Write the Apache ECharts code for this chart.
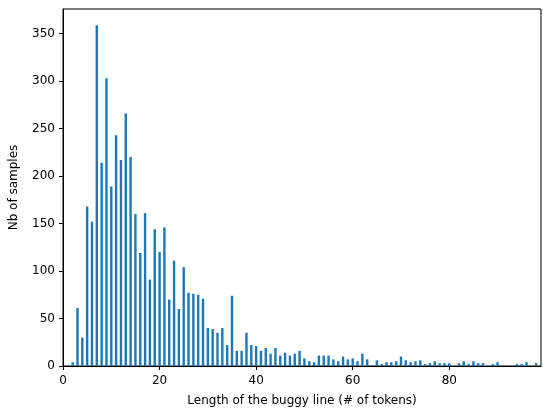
<!DOCTYPE html>
<html>
<head>
<meta charset="utf-8">
<script src="https://cdn.jsdelivr.net/npm/echarts@6/dist/echarts.min.js"></script>
<style>
  html, body { margin: 0; padding: 0; background: #fff; }
  #chart { width: 543px; height: 412px; }
</style>
</head>
<body>
<div id="chart"></div>
<script>
// Token counts of the buggy line (one bar per length)
const tokenLengths = [
  0, 1, 2, 3, 4, 5, 6, 7, 8, 9,
  10, 11, 12, 13, 14, 15, 16, 17, 18, 19,
  20, 21, 22, 23, 24, 25, 26, 27, 28, 29,
  30, 31, 32, 33, 34, 35, 36, 37, 38, 39,
  40, 41, 42, 43, 44, 45, 46, 47, 48, 49,
  50, 51, 52, 53, 54, 55, 56, 57, 58, 59,
  60, 61, 62, 63, 64, 65, 66, 67, 68, 69,
  70, 71, 72, 73, 74, 75, 76, 77, 78, 79,
  80, 81, 82, 83, 84, 85, 86, 87, 88, 89,
  90, 91, 92, 93, 94, 95, 96, 97, 98
];
const sampleCounts = [
  0, 0, 4, 61, 30, 168, 152, 359, 214, 303,
  189, 243, 217, 266, 220, 160, 119, 161, 91, 144,
  120, 146, 70, 111, 60, 104, 77, 76, 75, 71,
  40, 39, 35, 40, 22, 74, 16, 16, 35, 22,
  21, 16, 19, 13, 19, 11, 14, 11, 13, 16,
  8, 5, 4, 11, 11, 11, 7, 5, 10, 7,
  8, 5, 13, 7, 0, 6, 2, 4, 4, 5,
  10, 6, 4, 5, 6, 2, 3, 5, 3, 3,
  3, 0, 3, 5, 2, 5, 3, 3, 0, 2,
  4, 0, 0, 0, 2, 2, 4, 0, 3
];
const xTicks = [0, 20, 40, 60, 80];
const yTicks = [0, 50, 100, 150, 200, 250, 300, 350];

const font = 'DejaVu Sans';
const chart = echarts.init(document.getElementById('chart'), null, { renderer: 'canvas' });

chart.setOption({
  animation: false,
  backgroundColor: '#ffffff',
  grid: {
    left: 63, top: 9, right: 2, bottom: 44,
    show: true, borderColor: '#000', borderWidth: 1, backgroundColor: 'transparent'
  },
  xAxis: {
    type: 'value',
    min: 0, max: 99, interval: 20,
    name: 'Length of the buggy line (# of tokens)',
    nameLocation: 'middle', nameGap: 29,
    nameTextStyle: { color: '#000', fontFamily: font, fontSize: 12 },
    axisLine: { show: true, onZero: false, lineStyle: { color: '#000', width: 1 } },
    axisTick: { show: true, length: 4, inside: false, customValues: xTicks, lineStyle: { color: '#000' } },
    axisLabel: { color: '#000', fontFamily: font, fontSize: 12, margin: 9, customValues: xTicks },
    splitLine: { show: false }
  },
  yAxis: {
    type: 'value',
    min: 0, max: 376, interval: 50,
    name: 'Nb of samples',
    nameLocation: 'middle', nameGap: 43,
    nameTextStyle: { color: '#000', fontFamily: font, fontSize: 12 },
    axisLine: { show: true, lineStyle: { color: '#000', width: 1 } },
    axisTick: { show: true, length: 4, inside: false, customValues: yTicks, lineStyle: { color: '#000' } },
    axisLabel: { color: '#000', fontFamily: font, fontSize: 12, margin: 8, customValues: yTicks },
    splitLine: { show: false }
  },
  series: [{
    type: 'bar',
    data: tokenLengths.map((x, i) => [x, sampleCounts[i]]),
    barWidth: 2.4,
    itemStyle: { color: '#1f77b4' },
    emphasis: { disabled: true }
  }]
});
</script>
</body>
</html>
